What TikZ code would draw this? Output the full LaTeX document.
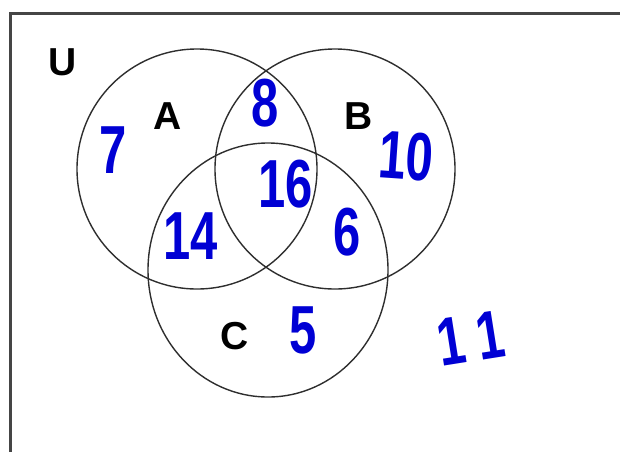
\documentclass[tikz,border=0pt]{standalone}
\usepackage{fontspec}
\setmainfont{Liberation Sans}
\newfontfamily\handfont[FakeStretch=0.72]{Liberation Sans}
\usetikzlibrary{shapes.geometric}
\definecolor{Ink} {HTML}{0000D4}
\definecolor{Rim} {HTML}{454545}
\definecolor{Ring}{HTML}{2E2E2E}
\tikzset{
  setc/.style args={#1/#2}{
    ellipse, draw=Ring, line width=1.4pt,
    inner sep=0pt, minimum width=#1, minimum height=#2,
  },
  setlbl/.style={
    font=\fontsize{39}{39}\selectfont\bfseries,
    text=black, inner sep=0pt,
  },
  cnt/.style={
    font=\handfont\fontsize{68}{68}\selectfont\bfseries,
    text=Ink, inner sep=0pt,
  },
  rim/.style={draw=Rim, line width=3pt},
}

\begin{document}
\begin{tikzpicture}[x=1pt,y=-1pt]
  \useasboundingbox (0,0) rectangle (620,451);
  % universe frame (only top and left edges show)
  \coordinate (ul) at (10,13);
  \coordinate (ur) at (622,13);
  \coordinate (ll) at (10,453);
  \draw[rim] (ll) -- (ul) -- (ur);
  % the three sets
  \node[setc=240pt/240pt] (sA) at (197,169) {};
  \node[setc=240pt/240pt] (sB) at (335,169) {};
  \node[setc=240pt/254pt] (sC) at (268,270) {};
  % set names
  \node[setlbl] (nU) at (63,62)   {U};
  \node[setlbl] (nA) at (168,116) {A};
  \node[setlbl] (nB) at (359,116) {B};
  \node[setlbl] (nC) at (235,336) {C};
  % region counts
  \node[cnt]            (kA)   at (113,150) {7};
  \node[cnt]            (kAB)  at (265,103) {8};
  \node[cnt, rotate=-4] (kB)   at (406,156) {10};
  \node[cnt]            (kABC) at (286,184) {16};
  \node[cnt]            (kAC)  at (191,236) {14};
  \node[cnt]            (kBC)  at (347,232) {6};
  \node[cnt]            (kC)   at (303,330) {5};
  \node[cnt, rotate=9]  (kU)   at (471,338) {1\kern12pt1};
\end{tikzpicture}
\end{document}
